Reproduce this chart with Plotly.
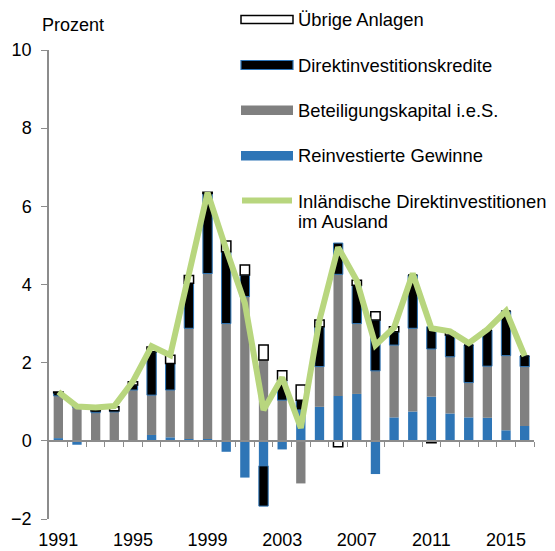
import plotly.graph_objects as go

# ---------------- data ----------------
years = list(range(1991, 2017))
tick_years = [1991, 1995, 1999, 2003, 2007, 2011, 2015]
tick_labels = [str(y) for y in tick_years]
y_ticks = [-2, 0, 2, 4, 6, 8, 10]

reinvest = [0.07, -0.10, -0.02, -0.02, 0.02, 0.15, 0.09, 0.05, 0.05, -0.28,
            -0.94, -0.64, -0.22, 0.79, 0.87, 1.15, 1.20, -0.85, 0.60, 0.75,
            1.13, 0.70, 0.60, 0.59, 0.27, 0.38]
equity = [1.08, 0.86, 0.72, 0.74, 1.28, 1.02, 1.21, 2.83, 4.23, 3.00,
          3.69, 2.07, 1.04, -1.09, 1.03, 3.11, 1.80, 1.79, 1.85, 2.13,
          1.22, 1.45, 0.89, 1.32, 1.91, 1.52]
credit = [0.08, 0.04, 0.05, 0.03, 0.13, 1.11, 0.68, 1.15, 2.05, 1.84,
          0.55, -1.03, 0.51, 0.25, 1.02, 0.80, 0.98, 1.30, 0.34, 1.36,
          0.57, 0.56, 0.96, 0.92, 1.14, 0.27]
other = [0.02, 0.00, 0.06, 0.10, 0.08, 0.12, 0.21, 0.20, 0.03, 0.27,
         0.26, 0.38, 0.24, 0.39, 0.17, -0.15, 0.13, 0.21, 0.13, 0.00,
         -0.05, 0.07, 0.00, 0.00, 0.00, 0.00]
total = [1.25, 0.88, 0.85, 0.89, 1.52, 2.42, 2.19, 4.22, 6.35, 4.90,
         3.52, 0.79, 1.62, 0.33, 3.09, 4.95, 4.10, 2.45, 2.90, 4.28,
         2.88, 2.80, 2.50, 2.85, 3.32, 2.17]

names = ["Übrige Anlagen", "Direktinvestitionskredite", "Beteiligungskapital i.e.S.",
         "Reinvestierte Gewinne", "Inländische Direktinvestitionen", "im Ausland"]

# ---------------- style ----------------
BLUE = "#2E75B6"
GRAY = "#808080"
BLACK = "#000000"
GREEN = "#B8D67E"
AXIS = "#8C8C8C"
FONT = "Liberation Sans, Arial, sans-serif"
OFF = 8                      # page body margin
W, H = 547, 543
ML, MR, MT, MB = 41, 21, 42, 32
PW = W - ML - MR
PH = H - MT - MB


def fx(px):
    return (px - OFF - ML) / PW


def fy(py):
    return (H - MB - (py - OFF)) / PH


fig = go.Figure()
fig.add_trace(go.Bar(x=years, y=reinvest, width=0.5, marker=dict(color=BLUE, line=dict(width=0)),
                     name=names[3], showlegend=False))
fig.add_trace(go.Bar(x=years, y=equity, width=0.5, marker=dict(color=GRAY, line=dict(width=0)),
                     name=names[2], showlegend=False))
fig.add_trace(go.Bar(x=years, y=credit, width=0.5, marker=dict(color=BLACK, line=dict(color=BLUE, width=1)),
                     name=names[1], showlegend=False))
fig.add_trace(go.Bar(x=years, y=other, width=0.5, marker=dict(color="white", line=dict(color=BLACK, width=1.5)),
                     name=names[0], showlegend=False))
fig.add_trace(go.Scatter(x=years, y=total, mode="lines", xaxis="x2",
                         line=dict(color=GREEN, width=6), name=names[4], showlegend=False))

fig.update_layout(
    width=W, height=H,
    margin=dict(l=ML, r=MR, t=MT, b=MB, pad=0, autoexpand=False),
    barmode="relative",
    plot_bgcolor="white", paper_bgcolor="white",
    font=dict(family=FONT, size=18, color="black"),
    xaxis=dict(range=[1990.5, 2016.5], tickmode="array", tickvals=tick_years, ticktext=tick_labels,
               showline=False, ticks="", showgrid=False, zeroline=False, automargin=False,
               tickfont=dict(size=18), ticklabelstandoff=8),
    xaxis2=dict(range=[1990.5, 2016.5], overlaying="x", anchor="free", position=2 / 12,
                tickmode="array", tickvals=[y + 0.5 for y in years], ticks="outside", ticklen=5,
                tickcolor=AXIS, tickwidth=1, showticklabels=False, showline=True, linecolor=AXIS,
                linewidth=1.5, showgrid=False, zeroline=False, automargin=False),
    yaxis=dict(range=[-2, 10], tickmode="array", tickvals=y_ticks, ticks="outside", ticklen=6,
               tickcolor=AXIS, tickwidth=1, showline=True, linecolor=AXIS, linewidth=1.5,
               showgrid=False, zeroline=False, automargin=False,
               tickfont=dict(size=18), ticklabelstandoff=6),
    showlegend=False,
)

annotations = [dict(text="Prozent", xref="paper", yref="paper", x=fx(40), y=fy(25),
                    xanchor="left", yanchor="middle", showarrow=False, font=dict(size=18))]
text_y = [20, 65, 110, 155, 201.5, 221.5]
for name, ty in zip(names, text_y):
    annotations.append(dict(text=name, xref="paper", yref="paper", x=fx(296), y=fy(ty),
                            xanchor="left", yanchor="middle", showarrow=False, font=dict(size=18.4)))

shapes = []
swatches = [("white", BLACK, 1.5, 15.5, 23.5),
            (BLACK, BLUE, 1.2, 60.5, 69.5),
            (GRAY, GRAY, 0, 105.5, 115),
            (BLUE, BLUE, 0, 151, 160.5)]
for fill, lc, lw, y0, y1 in swatches:
    shapes.append(dict(type="rect", xref="paper", yref="paper", x0=fx(241), x1=fx(293),
                       y0=fy(y1), y1=fy(y0), fillcolor=fill, line=dict(color=lc, width=lw)))
shapes.append(dict(type="line", xref="paper", yref="paper", x0=fx(242), x1=fx(292),
                   y0=fy(200.5), y1=fy(200.5), line=dict(color=GREEN, width=6)))

fig.update_layout(annotations=annotations, shapes=shapes)
fig.write_html("out.html")
